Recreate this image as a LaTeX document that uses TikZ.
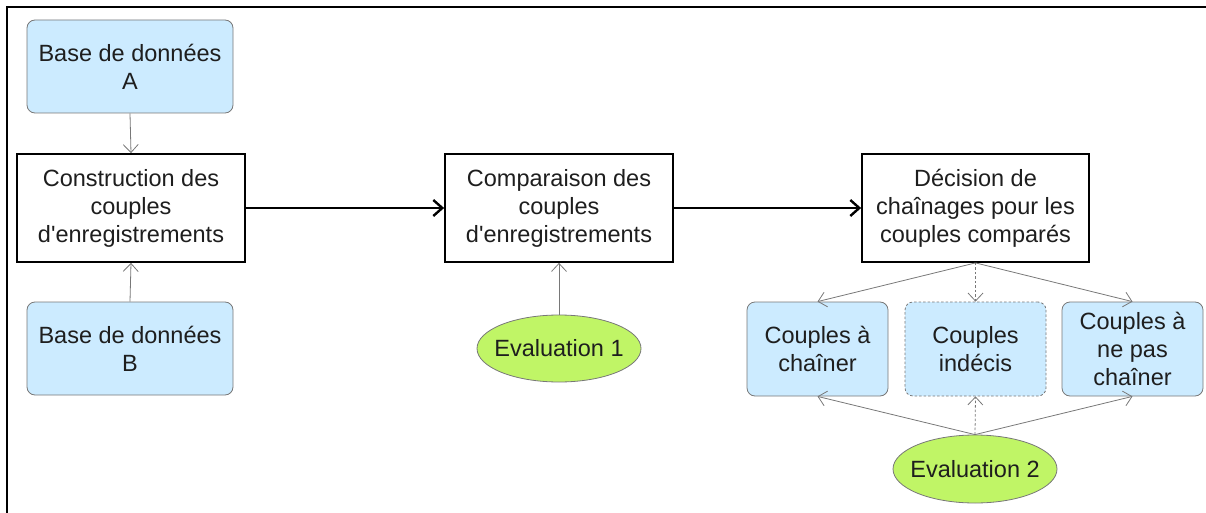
\documentclass[tikz,border=0pt]{standalone}
\usepackage{fontspec}
\setmainfont{Liberation Sans}[Ligatures=TeXOff]
\usetikzlibrary{arrows.meta,shapes.geometric}
\definecolor{boxblue}{RGB}{204,235,255}
\definecolor{evalgreen}{RGB}{192,245,102}
\definecolor{txt}{RGB}{30,30,30}
\definecolor{edge}{RGB}{120,120,120}
\tikzset{
  every node/.style={font=\fontsize{23.5}{28}\selectfont, text=txt, align=center, inner sep=0pt},
  stage/.style={draw=black, line width=1.8pt, fill=white, minimum width=228pt, minimum height=108pt},
  datab/.style={draw=edge, line width=0.8pt, fill=boxblue, rounded corners=8pt, minimum width=206pt, minimum height=93pt},
  outcome/.style={draw=edge, line width=0.8pt, fill=boxblue, rounded corners=8pt, minimum width=141pt, minimum height=94pt},
  evalnode/.style={ellipse, draw=edge, line width=0.8pt, fill=evalgreen, minimum width=164pt, minimum height=67pt},
  thin/.style={draw=edge, line width=0.8pt, -{Straight Barb[length=8pt,width=15pt]}},
  thick/.style={draw=black, line width=2.4pt, -{Straight Barb[length=9pt,width=16pt]}},
  dashline/.style={dash pattern=on 2.5pt off 2pt},
}
\begin{document}
\begin{tikzpicture}[x=1pt,y=-1pt]
\useasboundingbox (0,0) rectangle (1206,513);
% frame
\draw[line width=2pt, line cap=rect] (7,513) -- (7,7) -- (1206,7);

% input databases and the pair-building stage
\node[datab] (baseA) at (130,66.5) {Base de données\\A};
\node[stage] (constr) at (131,208) {Construction des\\couples\\d'enregistrements};
\node[datab] (baseB) at (130,348.5) {Base de données\\B};

% comparison and decision stages
\node[stage] (comp) at (559,208) {Comparaison des\\couples\\d'enregistrements};
\node[stage, minimum width=227pt] (dec) at (975.5,208) {Décision de\\chaînages pour les\\couples comparés};
\node[evalnode] (eval1) at (559,348.5) {\makebox[0pt]{Evaluation 1}};

% outcomes
\node[outcome] (chainer) at (817.5,349) {Couples à\\chaîner};
\node[outcome, dashline] (indecis) at (975.5,349) {Couples\\indécis};
\node[outcome] (nepas) at (1132.5,349) {Couples à\\ne pas\\chaîner};
\node[evalnode, minimum height=68pt] (eval2) at (975,469) {\makebox[0pt]{Evaluation 2}};

% connectors
\draw[thin] (baseA.south) -- (constr.north);
\draw[thin] (baseB.north) -- (constr.south);
\draw[thick] (constr.east) -- (comp.west);
\draw[thick] (comp.east) -- (dec.west);
\draw[thin] (eval1.north) -- (comp.south);

\draw[thin] (dec.south) -- (chainer.north);
\draw[thin, dashline] (dec.south) -- (indecis.north);
\draw[thin] (dec.south) -- (nepas.north);

\draw[thin] (eval2.north) -- (chainer.south);
\draw[thin, dashline] (eval2.north) -- (indecis.south);
\draw[thin] (eval2.north) -- (nepas.south);
\end{tikzpicture}
\end{document}
